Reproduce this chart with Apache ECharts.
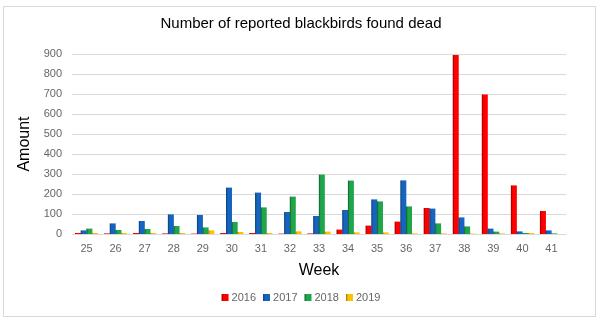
<!DOCTYPE html>
<html>
<head>
<meta charset="utf-8">
<script src="https://cdn.jsdelivr.net/npm/echarts@6/dist/echarts.min.js"></script>
<style>
  html, body { margin: 0; padding: 0; background: #fff; }
  #frame { position: absolute; left: 3px; top: 6px; width: 591px; height: 309px; border: 1px solid #d9d9d9; }
  #chart { width: 602px; height: 325px; }
</style>
</head>
<body>
<div id="frame"></div>
<div id="chart"></div>
<script>
var weeks = ['25','26','27','28','29','30','31','32','33','34','35','36','37','38','39','40','41'];
var data2016 = [5, 3, 5, 3, 2, 5, 5, 2, 3, 22, 42, 62, 130, 895, 697, 243, 115];
var data2017 = [18, 53, 65, 98, 95, 232, 207, 110, 90, 120, 173, 268, 127, 83, 27, 13, 18];
var data2018 = [27, 20, 25, 40, 33, 60, 133, 187, 297, 267, 163, 138, 53, 38, 12, 5, 3];
var data2019 = [5, 5, 5, 5, 18, 10, 5, 13, 12, 8, 8, 3, 3, 2, 3, 5, 0];
var yTicks = [0, 100, 200, 300, 400, 500, 600, 700, 800, 900];

var colors = ['#ff0000', '#1565c0', '#1fa64a', '#ffc000'];
var darks = ['#8b0000', '#0b3a70', '#0f5a27', '#9a7300'];

// fake 3D side with a horizontal gradient
function barColor(i) {
  return new echarts.graphic.LinearGradient(0, 0, 1, 0, [
    { offset: 0, color: darks[i] },
    { offset: 0.3, color: colors[i] },
    { offset: 1, color: colors[i] }
  ]);
}

function makeSeries(name, values, i) {
  return {
    name: name,
    type: 'bar',
    data: values,
    barWidth: 6,
    barGap: '-5%',
    itemStyle: { color: barColor(i) }
  };
}

var chart = echarts.init(document.getElementById('chart'));
chart.setOption({
  animation: false,
  color: colors,
  title: {
    text: 'Number of reported blackbirds found dead',
    left: 'center',
    top: 11,
    textStyle: { fontFamily: 'Liberation Sans', fontSize: 15, fontWeight: 'normal', color: '#000' }
  },
  legend: {
    bottom: 17,
    left: 'center',
    icon: 'rect',
    itemWidth: 7,
    itemHeight: 7,
    itemGap: 7,
    textStyle: { fontFamily: 'Liberation Sans', fontSize: 11, color: '#666', padding: [0, 0, 0, -2] },
    data: ['2016', '2017', '2018', '2019']
  },
  grid: { left: 72, right: 36, top: 54, bottom: 91 },
  xAxis: {
    type: 'category',
    data: weeks,
    name: 'Week',
    nameLocation: 'middle',
    nameGap: 29,
    nameTextStyle: { fontFamily: 'Liberation Sans', fontSize: 16, color: '#000' },
    axisLine: { show: true, lineStyle: { color: '#d9d9d9' } },
    axisTick: { show: false },
    axisLabel: { fontFamily: 'Liberation Sans', fontSize: 11, color: '#666', margin: 9 }
  },
  yAxis: {
    type: 'value',
    min: yTicks[0],
    max: yTicks[yTicks.length - 1],
    interval: 100,
    name: 'Amount',
    nameLocation: 'middle',
    nameGap: 35,
    nameTextStyle: { fontFamily: 'Liberation Sans', fontSize: 16, color: '#000' },
    axisLine: { show: false },
    axisTick: { show: false },
    splitLine: { lineStyle: { color: '#d9d9d9' } },
    axisLabel: { fontFamily: 'Liberation Sans', fontSize: 11, color: '#666', margin: 10 }
  },
  series: [
    makeSeries('2016', data2016, 0),
    makeSeries('2017', data2017, 1),
    makeSeries('2018', data2018, 2),
    makeSeries('2019', data2019, 3)
  ]
});
</script>
</body>
</html>
